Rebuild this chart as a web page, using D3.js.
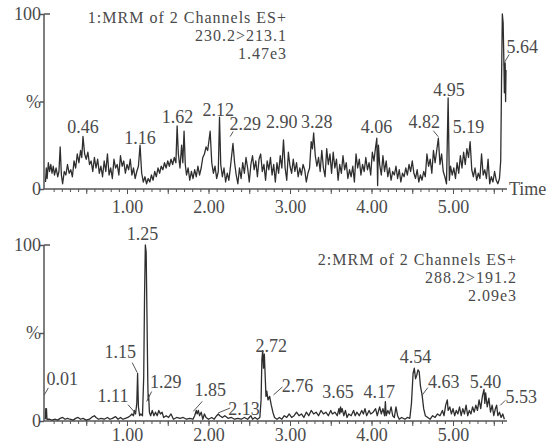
<!DOCTYPE html>
<html>
<head>
<meta charset="utf-8">
<script src="https://cdn.jsdelivr.net/npm/d3@7"></script>
<style>
body { margin: 0; background: #fff; }
text { font-family: "Liberation Serif", "DejaVu Serif", serif; fill: #4a4a4a; }
</style>
</head>
<body>
<div id="chart-area"></div>
<script>
/*
*    chromatogram - two MRM channels
*/

var width = 553;
var height = 447;

// channel 1 : 230.2>213.1  [time (min), intensity %]
var trace1 = [
[0.00,4],[0.01,12],[0.02,6],[0.035,15],[0.05,10],[0.065,14],[0.08,9],[0.095,13],[0.11,8],[0.13,12],[0.15,7],[0.165,10],[0.18,24],[0.195,8],[0.21,3],
[0.23,10],[0.25,8],[0.27,14],[0.29,9],[0.31,11],[0.33,7],[0.35,16],[0.37,12],[0.39,20],[0.41,15],[0.43,22],[0.445,18],[0.46,30],[0.48,20],[0.50,17],
[0.52,21],[0.54,14],[0.56,16],[0.58,10],[0.60,18],[0.62,12],[0.64,17],[0.66,9],[0.68,13],[0.70,7],[0.72,16],[0.74,10],[0.76,20],[0.78,8],[0.80,12],
[0.82,6],[0.84,17],[0.86,12],[0.88,14],[0.90,8],[0.92,19],[0.94,13],[0.96,16],[0.98,9],[1.00,14],[1.02,11],[1.04,17],[1.06,8],[1.08,12],[1.10,6],
[1.12,10],[1.14,13],[1.16,25],[1.18,9],[1.20,4],[1.22,7],[1.24,3],[1.26,6],[1.28,4],[1.30,8],[1.32,5],[1.34,10],[1.36,7],[1.38,12],[1.40,9],
[1.42,13],[1.44,11],[1.46,15],[1.48,12],[1.50,16],[1.52,13],[1.54,17],[1.56,14],[1.58,18],[1.60,15],[1.615,36],[1.63,20],[1.65,12],[1.67,25],[1.685,15],[1.70,33],[1.715,14],
[1.73,8],[1.75,12],[1.77,5],[1.79,10],[1.81,6],[1.83,11],[1.85,7],[1.87,13],[1.89,8],[1.91,12],[1.93,18],[1.95,20],[1.97,24],[1.99,22],[2.02,33],[2.04,15],
[2.06,9],[2.08,13],[2.10,6],[2.12,10],[2.135,41],[2.15,14],[2.17,7],[2.19,12],[2.21,4],[2.23,9],[2.25,5],[2.27,13],[2.30,26],[2.32,15],[2.34,8],[2.36,3],
[2.38,12],[2.40,6],[2.42,15],[2.44,9],[2.46,18],[2.48,12],[2.50,4],[2.52,14],[2.54,19],[2.56,11],[2.58,16],[2.60,7],[2.62,17],[2.64,20],[2.66,10],[2.68,14],
[2.70,5],[2.72,16],[2.74,11],[2.76,18],[2.78,8],[2.80,14],[2.82,4],[2.84,15],[2.86,9],[2.88,19],[2.90,12],[2.92,28],[2.94,12],[2.96,5],[2.98,21],[3.00,13],
[3.02,9],[3.04,17],[3.06,10],[3.08,15],[3.10,7],[3.12,12],[3.14,8],[3.16,14],[3.18,11],[3.20,4],[3.22,9],[3.24,12],[3.26,27],[3.275,23],[3.29,32],[3.31,19],
[3.33,13],[3.35,18],[3.37,10],[3.39,22],[3.41,12],[3.43,7],[3.45,23],[3.47,14],[3.49,20],[3.51,9],[3.53,21],[3.55,12],[3.57,17],[3.59,5],[3.61,14],[3.63,9],
[3.65,19],[3.67,11],[3.69,15],[3.71,6],[3.73,11],[3.75,7],[3.77,13],[3.79,4],[3.81,20],[3.83,12],[3.85,17],[3.87,8],[3.89,14],[3.91,10],[3.93,18],[3.95,11],
[3.97,15],[3.99,8],[4.01,21],[4.03,16],[4.05,24],[4.065,29],[4.075,2],[4.085,25],[4.10,14],[4.12,8],[4.14,19],[4.16,10],[4.18,16],[4.20,7],[4.22,12],[4.24,5],
[4.26,10],[4.28,8],[4.30,13],[4.32,6],[4.34,11],[4.36,4],[4.38,9],[4.40,7],[4.42,12],[4.44,8],[4.46,14],[4.48,10],[4.50,16],[4.52,9],[4.54,6],[4.56,11],
[4.58,4],[4.60,8],[4.62,5],[4.64,10],[4.66,7],[4.68,20],[4.70,13],[4.72,17],[4.74,9],[4.76,22],[4.78,15],[4.80,22],[4.82,29],[4.84,14],[4.86,20],[4.88,10],
[4.90,7],[4.92,3],[4.94,52],[4.955,5],[4.97,13],[4.99,8],[5.01,12],[5.03,6],[5.05,15],[5.07,9],[5.09,19],[5.11,12],[5.13,21],[5.15,14],[5.17,23],[5.19,18],
[5.21,27],[5.23,11],[5.25,7],[5.27,12],[5.29,5],[5.31,9],[5.33,6],[5.35,20],[5.37,8],[5.39,11],[5.41,6],[5.43,17],[5.45,3],[5.47,7],[5.49,4],[5.51,10],
[5.53,5],[5.55,3],[5.57,6],[5.585,16],[5.595,60],[5.605,100],[5.615,95],[5.625,70],[5.63,55],[5.64,72],[5.645,50],[5.65,68]
];

// channel 2 : 288.2>191.2
var trace2 = [
[0.00,1],[0.003,7],[0.012,7],[0.018,1],[0.05,1],[0.08,0.5],[0.12,1],[0.15,0.5],[0.18,1.5],[0.21,2],[0.24,1],[0.27,1.5],[0.30,1],[0.34,0.5],[0.37,1.5],
[0.40,2],[0.43,1],[0.46,1.5],[0.50,0.5],[0.54,1],[0.58,2.5],[0.60,3],[0.62,2],[0.65,1],[0.68,1.5],[0.72,1],[0.76,2],[0.79,1],[0.82,1.5],[0.86,2.5],
[0.89,1],[0.92,2],[0.95,1],[0.98,1.5],[1.01,2],[1.04,3],[1.06,4],[1.08,3],[1.09,6],[1.105,4],[1.12,10],[1.13,27],[1.14,8],[1.155,3],[1.17,4],[1.19,3],
[1.205,25],[1.215,70],[1.225,100],[1.235,96],[1.245,60],[1.255,22],[1.26,12],[1.265,15],[1.275,5],[1.29,3],[1.31,6],[1.33,3],[1.35,5],[1.37,3],[1.39,6],
[1.41,4],[1.43,5],[1.45,2],[1.48,3],[1.51,2],[1.54,4],[1.57,1],[1.61,2],[1.65,1.5],[1.69,2],[1.73,1],[1.77,1.5],[1.81,1],[1.83,3],[1.85,6],[1.86,4],
[1.875,6],[1.89,3],[1.91,5],[1.93,1],[1.95,4],[1.97,2],[2.00,1],[2.04,2],[2.07,1],[2.10,3],[2.12,4],[2.14,3],[2.17,2],[2.20,3],[2.24,1.5],[2.28,2],
[2.32,1],[2.36,1.5],[2.40,1],[2.44,2],[2.48,1],[2.52,3],[2.54,1],[2.57,2],[2.60,1],[2.63,2],[2.645,12],[2.655,35],[2.665,40],[2.675,30],[2.685,38],
[2.695,26],[2.705,14],[2.715,17],[2.73,12],[2.75,14],[2.77,9],[2.79,5],[2.81,2],[2.84,1],[2.87,2],[2.90,1],[2.93,3],[2.96,2],[2.99,4],[3.02,2],[3.05,3],
[3.08,5],[3.11,3],[3.14,4],[3.17,2],[3.20,5],[3.23,3],[3.26,6],[3.29,4],[3.32,5],[3.35,3],[3.38,6],[3.41,4],[3.44,5],[3.47,3],[3.50,6],[3.52,4],[3.55,5],
[3.58,3],[3.60,7],[3.61,4],[3.62,8],[3.63,5],[3.64,7],[3.66,3],[3.68,6],[3.70,2],[3.72,4],[3.75,3],[3.78,6],[3.80,3],[3.82,5],[3.85,3],[3.88,6],[3.90,4],
[3.92,7],[3.94,3],[3.97,6],[3.99,4],[4.02,5],[4.05,7],[4.07,3],[4.10,8],[4.12,4],[4.14,7],[4.16,3],[4.17,11],[4.18,3],[4.20,6],[4.22,4],[4.24,8],[4.26,3],
[4.28,2],[4.30,8],[4.32,3],[4.34,1],[4.37,2],[4.41,1],[4.44,2],[4.47,1.5],[4.49,10],[4.51,27],[4.525,30],[4.54,24],[4.555,26],[4.57,29],[4.585,28],[4.60,20],
[4.62,15],[4.64,7],[4.66,3],[4.69,2],[4.72,1],[4.75,3],[4.78,2],[4.81,4],[4.84,3],[4.87,6],[4.89,3],[4.91,9],[4.93,12],[4.94,6],[4.96,8],[4.98,4],[5.00,7],
[5.02,3],[5.04,6],[5.06,4],[5.08,8],[5.10,3],[5.12,7],[5.14,4],[5.16,9],[5.18,3],[5.20,6],[5.22,4],[5.24,8],[5.26,5],[5.28,9],[5.30,6],[5.32,12],[5.34,7],
[5.36,14],[5.38,18],[5.39,10],[5.40,16],[5.42,8],[5.44,13],[5.46,5],[5.48,9],[5.50,3],[5.52,7],[5.535,9],[5.55,3],[5.57,5],[5.59,2],[5.61,4],[5.63,1]
];

// peak labels: retention time text and the height (%) the label sits at
var peaks1 = ["0.46","1.16","1.62","2.12","2.29","2.90","3.28","4.06","4.82","4.95","5.19","5.64"];
var peaks1Level = [32, 26, 38, 42, 34, 35, 35, 32, 35, 53, 32, 78];
var peaks2 = ["0.01","1.11","1.15","1.25","1.29","1.85","2.13","2.72","2.76","3.65","4.17","4.54","4.63","5.40","5.53"];
var peaks2Level = [20.5, 11, 36, 103, 19, 14, 3.4, 39, 16.5, 13, 13, 33, 19, 19, 10];

var titles1 = ["1:MRM of 2 Channels ES+", "230.2>213.1", "1.47e3"];
var titles2 = ["2:MRM of 2 Channels ES+", "288.2>191.2", "2.09e3"];

var xTicks = [1, 2, 3, 4, 5];

// label nudges and leader lines (px, relative to label centre/baseline)
var nudge = {
  "2.29": {dx: 13, lead: [-12, 2, -15, 7]},
  "3.28": {dx: 4},
  "4.82": {dx: -14, lead: [9, 3, 14, 9]},
  "5.64": {dx: 17, lead: [-13, 2, -19, 12]},
  "0.01": {dx: 16, lead: [-14, 3, -18, 10]},
  "1.11": {dx: -23, lead: [15, 3, 22, 11]},
  "1.15": {dx: -19, lead: [12, 5, 17, 15]},
  "1.25": {dx: -5},
  "1.29": {dx: 15, lead: [-14, 4, -19, 14]},
  "1.85": {dx: 14, lead: [-8, 5, -17, 15]},
  "2.13": {dx: 25, lead: [-14, -7, -26, -2]},
  "2.72": {dx: 4},
  "2.76": {dx: 27, lead: [-15, -5, -24, 3]},
  "3.65": {dx: -5},
  "4.17": {dx: -6},
  "4.63": {dx: 21, lead: [-16, 0, -22, 8]},
  "5.53": {dx: 25, lead: [-16, -3, -21, 2]}
};

var svg = d3.select("#chart-area").append("svg")
.attr("width", width)
.attr("height", height)

var x = d3.scaleLinear()
.domain([0, 5.65])
.range([45.5, 506])

var panels = [
  {data: trace1, labels: peaks1, levels: peaks1Level, titles: titles1, top: 14, bottom: 189, titleX: 287, titleY: 23, tickY: 24, time: true},
  {data: trace2, labels: peaks2, levels: peaks2Level, titles: titles2, top: 245, bottom: 421, titleX: 517, titleY: 265, tickY: 20, time: false}
];

panels.forEach(p => {
  var y = d3.scaleLinear()
  .domain([0, 100])
  .range([p.bottom, p.top])

  var g = svg.append("g")

  // minor ticks
  g.append("g")
  .attr("transform", "translate(0," + p.bottom + ")")
  .call(d3.axisBottom(x).tickValues(d3.range(0.1, 5.61, 0.1)).tickSize(3).tickFormat(""))
  .call(a => a.select(".domain").remove())
  .call(a => a.selectAll("line").attr("stroke", "#555"))

  // half-unit ticks
  g.append("g")
  .attr("transform", "translate(0," + p.bottom + ")")
  .call(d3.axisBottom(x).tickValues([0.5, 1.5, 2.5, 3.5, 4.5, 5.5]).tickSize(5).tickFormat(""))
  .call(a => a.select(".domain").remove())
  .call(a => a.selectAll("line").attr("stroke", "#555"))

  // labelled ticks
  var xa = g.append("g")
  .attr("transform", "translate(0," + p.bottom + ")")
  .call(d3.axisBottom(x).tickValues(xTicks).tickSize(5).tickFormat(d3.format(".2f")))
  xa.select(".domain").remove()
  xa.selectAll("line").attr("stroke", "#555")
  xa.selectAll("text")
  .attr("y", p.tickY)
  .attr("dy", null)
  .style("font-size", "18px")
  .attr("fill", "#4a4a4a")

  // x axis line
  g.append("line")
  .attr("x1", 44).attr("x2", 507)
  .attr("y1", p.bottom).attr("y2", p.bottom)
  .attr("stroke", "#555").attr("stroke-width", 1.5)

  // y axis
  var ya = g.append("g")
  .attr("transform", "translate(44,0)")
  .call(d3.axisLeft(y).tickValues([0, 50, 100]).tickSize(4).tickFormat(d => d == 50 ? "%" : d))
  ya.select(".domain").attr("stroke", "#555").attr("stroke-width", 1.5).attr("d", "M0," + p.top + "V" + p.bottom)
  ya.selectAll("line").attr("stroke", "#555").attr("stroke-width", 1.5)
  ya.selectAll("text")
  .attr("x", -3)
  .style("font-size", "18px")
  .attr("fill", "#4a4a4a")

  g.append("line")
  .attr("x1", 44).attr("x2", 50)
  .attr("y1", y(100)).attr("y2", y(100))
  .attr("stroke", "#555").attr("stroke-width", 1.5)

  if (p.time) {
    g.append("text")
    .attr("x", 509)
    .attr("y", p.bottom + 6)
    .attr("font-size", "18px")
    .text("Time")
  }

  // trace
  var line = d3.line()
  .x(d => x(d[0]))
  .y(d => y(d[1]))

  g.append("path")
  .datum(p.data)
  .attr("fill", "none")
  .attr("stroke", "#2e2e2e")
  .attr("stroke-width", 1.3)
  .attr("stroke-linejoin", "round")
  .attr("d", line)

  // titles
  p.titles.forEach((t, i) => {
    g.append("text")
    .attr("x", p.titleX)
    .attr("y", p.titleY + i * 18)
    .attr("text-anchor", "end")
    .attr("font-size", "16px")
    .attr("letter-spacing", "1px")
    .text(t)
  })

  // peak labels
  p.labels.forEach((lab, i) => {
    var n = nudge[lab] || {dx: 0}
    var lx = x(+lab) + n.dx
    var ly = y(p.levels[i])
    g.append("text")
    .attr("x", lx)
    .attr("y", ly)
    .attr("text-anchor", "middle")
    .attr("font-size", "18px")
    .text(lab)
    if (n.lead) {
      g.append("line")
      .attr("x1", lx + n.lead[0]).attr("y1", ly + n.lead[1])
      .attr("x2", lx + n.lead[2]).attr("y2", ly + n.lead[3])
      .attr("stroke", "#555")
    }
  })
})
</script>
</body>
</html>
